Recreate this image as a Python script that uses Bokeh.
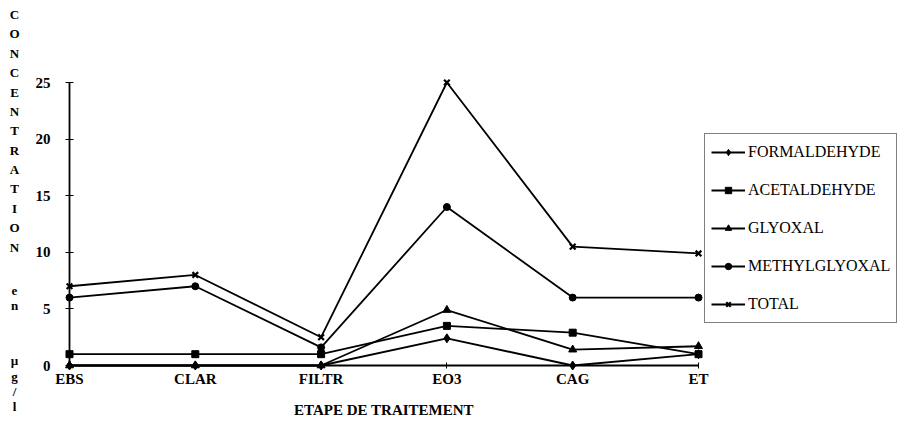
from bokeh.plotting import figure
from bokeh.models import Range1d, FixedTicker, Legend, LegendItem, Label
from bokeh.embed import file_html
from bokeh.resources import INLINE

# ---- data ----
categories = ["EBS", "CLAR", "FILTR", "EO3", "CAG", "ET"]
formaldehyde = [0.0, 0.0, 0.0, 2.4, 0.0, 1.0]
acetaldehyde = [1.0, 1.0, 1.0, 3.5, 2.9, 1.0]
glyoxal = [0.0, 0.0, 0.0, 4.9, 1.4, 1.7]
methylglyoxal = [6.0, 7.0, 1.6, 14.0, 6.0, 6.0]
total = [7.0, 8.0, 2.5, 25.0, 10.5, 9.9]
y_ticks = [0, 5, 10, 15, 20, 25]
x_title = "ETAPE DE TRAITEMENT"
y_title_letters = ["C", "O", "N", "C", "E", "N", "T", "R", "A", "T", "I", "O", "N",
                   "e", "n", "µ", "g", "/", "l"]

xs = list(range(len(categories)))
SERIF = "Liberation Serif"

# ---- layout: the frame covers the whole canvas; axes are pinned at 0 ----
W, H = 898, 425
X0_PX, Y0_PX = 69, 365          # pixel position of the data origin
PX_X = 629 / 5.0                # pixels per category step
PX_Y = 283 / 25.0               # pixels per y unit

p = figure(width=W, height=H, output_backend="svg", toolbar_location=None,
           x_range=Range1d(-X0_PX / PX_X, (W - X0_PX) / PX_X),
           y_range=Range1d((Y0_PX - H) / PX_Y, Y0_PX / PX_Y),
           min_border_left=0, min_border_right=0, min_border_top=0,
           min_border_bottom=0)
p.title.visible = False
p.xgrid.visible = False
p.ygrid.visible = False
p.outline_line_color = None
p.background_fill_color = "white"
p.border_fill_color = "white"

# y axis
ya = p.yaxis[0]
ya.fixed_location = 0
ya.ticker = FixedTicker(ticks=y_ticks)
ya.bounds = (0, 25)
ya.major_tick_in = 4
ya.major_tick_out = 4
ya.minor_tick_line_color = None
ya.axis_line_width = 1.8
ya.major_tick_line_width = 1.2
ya.axis_line_color = "black"
ya.major_tick_line_color = "black"
ya.major_label_text_font = SERIF
ya.major_label_text_font_style = "bold"
ya.major_label_text_font_size = "15px"
ya.major_label_text_color = "black"
ya.major_label_standoff = 15

# x axis
xa = p.xaxis[0]
xa.fixed_location = 0
xa.ticker = FixedTicker(ticks=xs)
xa.major_label_overrides = {i: c for i, c in enumerate(categories)}
xa.bounds = (0, len(categories) - 1)
xa.major_tick_in = 3
xa.major_tick_out = 3
xa.minor_tick_line_color = None
xa.axis_line_width = 1.8
xa.axis_line_color = "black"
xa.major_tick_line_color = "black"
xa.major_label_text_font = SERIF
xa.major_label_text_font_style = "bold"
xa.major_label_text_font_size = "15px"
xa.major_label_text_color = "black"
xa.major_label_standoff = 2
xa.axis_label = x_title
xa.axis_label_text_font = SERIF
xa.axis_label_text_font_style = "bold"
xa.axis_label_text_font_size = "15px"
xa.axis_label_text_color = "black"
xa.axis_label_standoff = 12

series = [
    ("FORMALDEHYDE", formaldehyde, "diamond", 9),
    ("ACETALDEHYDE", acetaldehyde, "square", 7),
    ("GLYOXAL", glyoxal, "triangle", 8),
    ("METHYLGLYOXAL", methylglyoxal, "circle", 7),
    ("TOTAL", total, "x", 8),
]

items = []
for name, vals, marker, size in series:
    lr = p.line(xs, vals, line_color="black", line_width=1.8)
    sr = p.scatter(xs, vals, marker=marker, size=size, fill_color="black",
                   line_color="black", line_width=2.2 if marker == "x" else 1)
    items.append(LegendItem(label=name, renderers=[lr, sr]))

legend = Legend(items=items, location=(704, H - 323))
legend.border_line_color = "black"
legend.border_line_width = 1
legend.background_fill_color = "white"
legend.background_fill_alpha = 1
legend.label_text_font = SERIF
legend.label_text_font_size = "16px"
legend.label_text_color = "black"
legend.glyph_width = 34
legend.glyph_height = 16
legend.label_height = 24
legend.spacing = 14
legend.padding = 6
legend.margin = 0
legend.label_standoff = 3
p.add_layout(legend)

# vertical stacked y title (one letter per line)
letter_py = [14, 33, 53, 72, 92, 111, 130, 150, 169, 188, 208, 227, 247,
             290, 305, 360, 376, 391, 406]
for ch, py in zip(y_title_letters, letter_py):
    p.add_layout(Label(x=(14 - X0_PX) / PX_X, y=(Y0_PX - py) / PX_Y,
                       text=ch, text_font=SERIF, text_font_style="bold",
                       text_font_size="13px", text_align="center",
                       text_baseline="middle", text_color="black"))

open("out.html", "w").write(file_html(p, INLINE))
